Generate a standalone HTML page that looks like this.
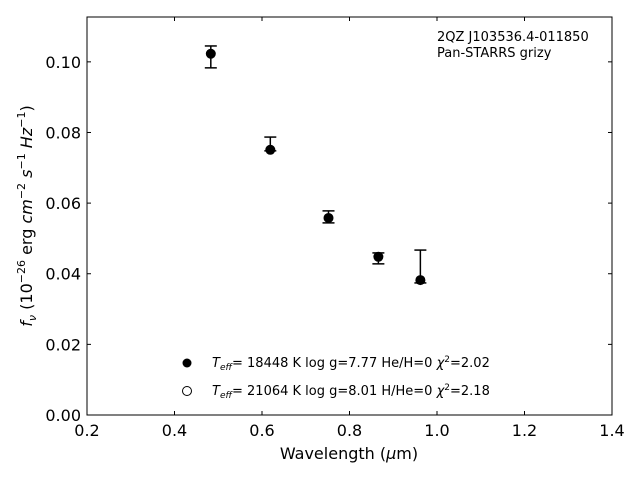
<!DOCTYPE html>
<html><head><meta charset="utf-8"><style>
body{margin:0;background:#fff}
svg{display:block;font-family:"DejaVu Sans","Liberation Sans",sans-serif}
</style></head><body>
<svg id="chart" width="640" height="480" xmlns="http://www.w3.org/2000/svg"></svg>
<script>
const wavelengths=[0.483,0.619,0.752,0.866,0.962];
const fluxes=[0.1023,0.0751,0.0558,0.0448,0.0382];
const errUpper=[0.1045,0.0787,0.0578,0.0459,0.0467];
const errLower=[0.0983,0.0748,0.0544,0.0428,0.0374];
const xTicks=[0.2,0.4,0.6,0.8,1.0,1.2,1.4];
const xTickLabels=["0.2","0.4","0.6","0.8","1.0","1.2","1.4"];
const yTicks=[0,0.02,0.04,0.06,0.08,0.10];
const yTickLabels=["0.00","0.02","0.04","0.06","0.08","0.10"];

const L=87,R=612,T=17,B=415;
const xMin=0.2,xMax=1.4,yMin=0,yMax=0.1127;
const sx=v=>L+(v-xMin)/(xMax-xMin)*(R-L);
const sy=v=>B-(v-yMin)/(yMax-yMin)*(B-T);
const svg=document.getElementById('chart');
const NS='http://www.w3.org/2000/svg';
function mk(tag,attrs,parent){const e=document.createElementNS(NS,tag);for(const k in attrs)e.setAttribute(k,attrs[k]);(parent||svg).appendChild(e);return e;}

const frame=mk('rect',{x:L,y:T,width:R-L,height:B-T,fill:'none',stroke:'#000','stroke-width':1});



xTicks.forEach((v,i)=>{
  const x=sx(v);
  const t=mk('line',{x1:x,x2:x,y1:B,y2:B-4,stroke:'#000'});
  
  
  const t2=mk('line',{x1:x,x2:x,y1:T,y2:T+4,stroke:'#000'});
  
  
  const lb=mk('text',{x:x,y:B+21,'text-anchor':'middle','font-size':16});
  lb.textContent=xTickLabels[i];
  
  
});
yTicks.forEach((v,i)=>{
  const y=sy(v);
  const t=mk('line',{x1:L,x2:L+4,y1:y,y2:y,stroke:'#000'});
  
  
  const t2=mk('line',{x1:R,x2:R-4,y1:y,y2:y,stroke:'#000'});
  
  
  const lb=mk('text',{x:L-6,y:y+6,'text-anchor':'end','font-size':16});
  lb.textContent=yTickLabels[i];
  
  
});

wavelengths.forEach((w,i)=>{
  const x=sx(w);
  const g=mk('g',{});
  
  
  mk('line',{x1:x,x2:x,y1:sy(errUpper[i]),y2:sy(errLower[i]),stroke:'#000','stroke-width':1.5},g);
  mk('line',{x1:x-6,x2:x+6,y1:sy(errUpper[i]),y2:sy(errUpper[i]),stroke:'#000','stroke-width':1.5},g);
  mk('line',{x1:x-6,x2:x+6,y1:sy(errLower[i]),y2:sy(errLower[i]),stroke:'#000','stroke-width':1.5},g);
  mk('circle',{cx:x,cy:sy(fluxes[i]),r:5,fill:'#000'},g);
});
</script>
<svg style="position:absolute;left:0;top:0" width="640" height="480" xmlns="http://www.w3.org/2000/svg" font-family="DejaVu Sans, Liberation Sans, sans-serif">
  <text x="437" y="41" font-size="13">2QZ J103536.4-011850</text>
  <text x="437" y="57" font-size="13">Pan-STARRS grizy</text>
  <circle cx="187" cy="363" r="4.5" fill="#000"/>
  <text x="212" y="367" font-size="13"><tspan font-style="italic">T</tspan><tspan font-style="italic" font-size="9" dy="3">eff</tspan><tspan dy="-3">= 18448 K  log g=7.77  He/H=0  </tspan><tspan font-style="italic">χ</tspan><tspan font-size="9" dy="-5">2</tspan><tspan dy="5">=2.02</tspan></text>
  <circle cx="187" cy="391" r="4.5" fill="#fff" stroke="#000"/>
  <text x="212" y="395" font-size="13"><tspan font-style="italic">T</tspan><tspan font-style="italic" font-size="9" dy="3">eff</tspan><tspan dy="-3">= 21064 K  log g=8.01  H/He=0  </tspan><tspan font-style="italic">χ</tspan><tspan font-size="9" dy="-5">2</tspan><tspan dy="5">=2.18</tspan></text>
  <text x="349" y="459" font-size="16" text-anchor="middle">Wavelength (<tspan font-style="italic">μ</tspan>m)</text>
  <text transform="translate(32,216) rotate(-90)" font-size="16" text-anchor="middle"><tspan font-style="italic">f</tspan><tspan font-style="italic" font-size="11" dy="4">ν</tspan><tspan dy="-4"> (10</tspan><tspan font-size="11" dy="-7">−26</tspan><tspan dy="7"> erg </tspan><tspan font-style="italic">cm</tspan><tspan font-size="11" dy="-7">−2</tspan><tspan dy="7"> </tspan><tspan font-style="italic">s</tspan><tspan font-size="11" dy="-7">−1</tspan><tspan dy="7"> </tspan><tspan font-style="italic">Hz</tspan><tspan font-size="11" dy="-7">−1</tspan><tspan dy="7">)</tspan></text>
</svg>
</body></html>
